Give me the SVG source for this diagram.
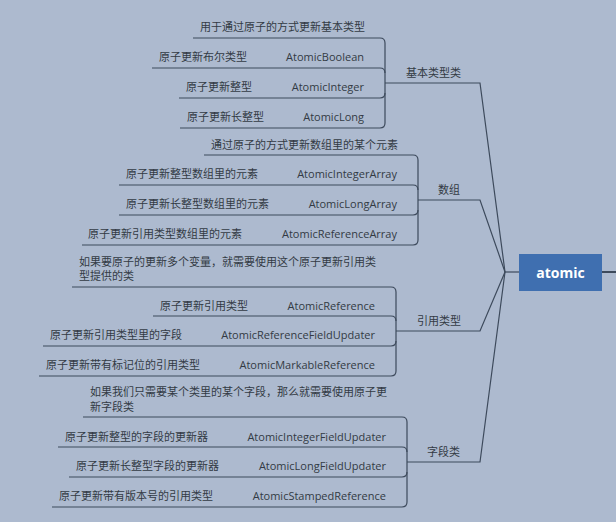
<svg xmlns="http://www.w3.org/2000/svg" width="616" height="522" viewBox="0 0 616 522">
<style>
.bg{fill:#adbacf}
.ln{fill:none;stroke:#3d4a5c;stroke-width:1.2}
.t{font-family:"Open Sans","Noto Sans CJK SC",sans-serif;font-size:11px;fill:#333a44}
.e{text-anchor:end}
.lbl{font-family:"Noto Sans CJK SC",sans-serif;font-size:11px;fill:#333a44}
.root{font-family:"Open Sans","Noto Sans CJK SC",sans-serif;font-size:14px;font-weight:bold;fill:#ffffff;text-anchor:middle}
</style>
<rect class="bg" x="0" y="0" width="616" height="522"/>
<g id="connectors">
  <path class="ln" d="M505,272 H519"/>
  <path class="ln" d="M602,272 H616" style="stroke-width:2"/>
  <path class="ln" d="M385,83 H480 L505,272"/>
  <path class="ln" d="M418,200 H480 L505,272"/>
  <path class="ln" d="M396,331 H480 L505,272"/>
  <path class="ln" d="M407,462 H480 L505,272"/>
  <!-- group 1 bracket -->
  <path class="ln" d="M193,38 H380 Q385,38 385,43 V123 Q385,128 380,128 H180"/>
  <path class="ln" d="M152,68 H380 Q385,68 385,73"/>
  <path class="ln" d="M179,98 H380 Q385,98 385,93"/>
  <!-- group 2 bracket -->
  <path class="ln" d="M204,155 H413 Q418,155 418,160 V240 Q418,245 413,245 H82"/>
  <path class="ln" d="M119,185 H413 Q418,185 418,190"/>
  <path class="ln" d="M119,215 H413 Q418,215 418,210"/>
  <!-- group 3 bracket -->
  <path class="ln" d="M72,287 H391 Q396,287 396,292 V371 Q396,376 391,376 H39"/>
  <path class="ln" d="M153,316 H391 Q396,316 396,321"/>
  <path class="ln" d="M43,346 H391 Q396,346 396,341"/>
  <!-- group 4 bracket -->
  <path class="ln" d="M83,417 H402 Q407,417 407,422 V502 Q407,507 402,507 H52"/>
  <path class="ln" d="M58,447 H402 Q407,447 407,452"/>
  <path class="ln" d="M69,477 H402 Q407,477 407,472"/>
</g>
<g id="root">
  <rect x="519" y="254" width="83" height="37" fill="#3f6fb0"/>
  <text class="root" x="560.5" y="278">atomic</text>
</g>
<g id="basic">
  <text class="lbl" x="406" y="77">基本类型类</text>
</g>
<g id="basic-desc"><text class="t" x="200" y="31">用于通过原子的方式更新基本类型</text></g>
<g id="atomic-boolean"><text class="t" x="159" y="61">原子更新布尔类型</text><text class="t e" x="364" y="61">AtomicBoolean</text></g>
<g id="atomic-integer"><text class="t" x="186" y="91">原子更新整型</text><text class="t e" x="364" y="91">AtomicInteger</text></g>
<g id="atomic-long"><text class="t" x="187" y="121">原子更新长整型</text><text class="t e" x="364" y="121">AtomicLong</text></g>

<g id="array">
  <text class="lbl" x="438" y="194">数组</text>
</g>
<g id="array-desc"><text class="t" x="211" y="149">通过原子的方式更新数组里的某个元素</text></g>
<g id="atomic-integer-array"><text class="t" x="126" y="178">原子更新整型数组里的元素</text><text class="t e" x="397" y="178">AtomicIntegerArray</text></g>
<g id="atomic-long-array"><text class="t" x="126" y="208">原子更新长整型数组里的元素</text><text class="t e" x="397" y="208">AtomicLongArray</text></g>
<g id="atomic-reference-array"><text class="t" x="88" y="238">原子更新引用类型数组里的元素</text><text class="t e" x="397" y="238">AtomicReferenceArray</text></g>

<g id="reference">
  <text class="lbl" x="417" y="325">引用类型</text>
</g>
<g id="reference-desc"><text class="t" x="79" y="266">如果要原子的更新多个变量，就需要使用这个原子更新引用类</text><text class="t" x="79" y="280">型提供的类</text></g>
<g id="atomic-reference"><text class="t" x="160" y="310">原子更新引用类型</text><text class="t e" x="375" y="310">AtomicReference</text></g>
<g id="atomic-reference-field-updater"><text class="t" x="50" y="339">原子更新引用类型里的字段</text><text class="t e" x="375" y="339">AtomicReferenceFieldUpdater</text></g>
<g id="atomic-markable-reference"><text class="t" x="46" y="369">原子更新带有标记位的引用类型</text><text class="t e" x="375" y="369">AtomicMarkableReference</text></g>

<g id="field">
  <text class="lbl" x="427" y="456">字段类</text>
</g>
<g id="field-desc"><text class="t" x="90" y="396">如果我们只需要某个类里的某个字段，那么就需要使用原子更</text><text class="t" x="90" y="411">新字段类</text></g>
<g id="atomic-integer-field-updater"><text class="t" x="65" y="441">原子更新整型的字段的更新器</text><text class="t e" x="386" y="441">AtomicIntegerFieldUpdater</text></g>
<g id="atomic-long-field-updater"><text class="t" x="76" y="470">原子更新长整型字段的更新器</text><text class="t e" x="386" y="470">AtomicLongFieldUpdater</text></g>
<g id="atomic-stamped-reference"><text class="t" x="59" y="500">原子更新带有版本号的引用类型</text><text class="t e" x="386" y="500">AtomicStampedReference</text></g>
</svg>
